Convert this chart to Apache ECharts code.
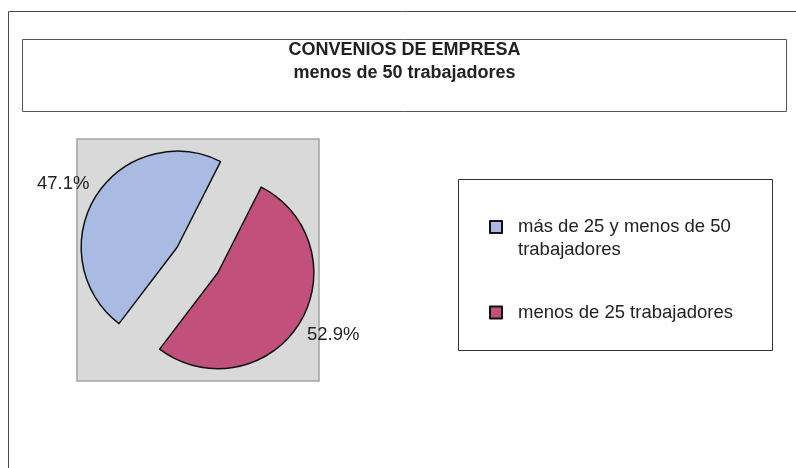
<!DOCTYPE html>
<html>
<head>
<meta charset="utf-8">
<script src="https://cdn.jsdelivr.net/npm/echarts@6/dist/echarts.min.js"></script>
<style>
html,body{margin:0;padding:0;background:#fff;}
#chart{width:796px;height:468px;}
</style>
</head>
<body>
<div id="chart"></div>
<script>
const titleLines = ['CONVENIOS DE EMPRESA', 'menos de 50 trabajadores'];
const categories = ['más de 25 y menos de 50 trabajadores', 'menos de 25 trabajadores'];
const legendLabels = ['más de 25 y menos de 50\ntrabajadores', 'menos de 25 trabajadores'];
const values = [47.1, 52.9];
const colors = ['#aabbe3', '#c1517a'];

const FONT = '"Liberation Sans", Arial, sans-serif';
const chart = echarts.init(document.getElementById('chart'), null, {renderer: 'canvas'});

const labelLines = [
  {length: 24, length2: -19},
  {length: 21, length2: -15}
];

chart.setOption({
  backgroundColor: '#ffffff',
  animation: false,
  graphic: [
    {type: 'rect', z: -10, shape: {x: 8.5, y: 11.5, width: 820, height: 500},
      style: {fill: '#ffffff', stroke: '#4a4a4a', lineWidth: 1}},
    {type: 'rect', z: -9, shape: {x: 22.5, y: 39.5, width: 764, height: 72},
      style: {fill: '#ffffff', stroke: '#555555', lineWidth: 1}},
    {type: 'text', z: 5, x: 404.5, y: 38.5,
      style: {text: titleLines.join('\n'), align: 'center', verticalAlign: 'top',
        font: 'bold 18px ' + FONT, lineHeight: 23, fill: '#222222'}},
    {type: 'rect', z: -9, shape: {x: 77, y: 139, width: 242, height: 242},
      style: {fill: '#d9d9d9', stroke: '#a3a3a3', lineWidth: 1.5}},
    {type: 'rect', z: -9, shape: {x: 458.5, y: 179.5, width: 314, height: 171},
      style: {fill: '#ffffff', stroke: '#333333', lineWidth: 1}}
  ],
  legend: [
    {
      data: [categories[0]], orient: 'vertical', left: 484, top: 187.5,
      itemWidth: 12, itemHeight: 12, selectedMode: false, icon: 'rect',
      formatter: () => ' \n' + legendLabels[0],
      textStyle: {fontSize: 18.5, fontFamily: FONT, color: '#222222',
        lineHeight: 23, padding: [0, 0, 0, 11]}
    },
    {
      data: [categories[1]], orient: 'vertical', left: 484, top: 296,
      itemWidth: 12, itemHeight: 12, selectedMode: false, icon: 'rect',
      formatter: () => legendLabels[1],
      textStyle: {fontSize: 18.5, fontFamily: FONT, color: '#222222',
        lineHeight: 23, padding: [0, 0, 0, 11]}
    }
  ],
  series: [{
    type: 'pie',
    center: [197.5, 260],
    radius: 96,
    startAngle: 232.7,
    clockwise: true,
    selectedMode: 'multiple',
    selectedOffset: 24,
    avoidLabelOverlap: false,
    percentPrecision: 1,
    itemStyle: {borderColor: '#111111', borderWidth: 1.5},
    select: {itemStyle: {borderColor: '#111111', borderWidth: 1.5}},
    emphasis: {disabled: true},
    label: {position: 'outside', formatter: '{d}%', fontSize: 18.5, fontFamily: FONT, color: '#222222'},
    labelLine: {show: false},
    data: categories.map((name, i) => ({
      name: name, value: values[i], selected: true,
      itemStyle: {color: colors[i]},
      labelLine: {show: false, length: labelLines[i].length, length2: labelLines[i].length2}
    }))
  }]
});
</script>
</body>
</html>
